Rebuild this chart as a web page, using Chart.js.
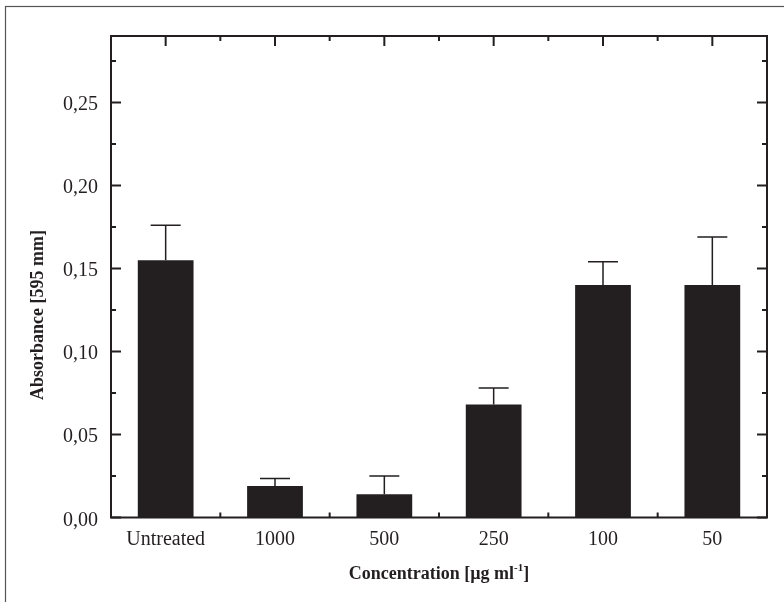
<!DOCTYPE html>
<html>
<head>
<meta charset="utf-8">
<script src="https://cdn.jsdelivr.net/npm/chart.js@4.4.1/dist/chart.umd.min.js"></script>
<style>
html,body{margin:0;padding:0;background:#fff;}
#wrap{width:784px;height:602px;position:relative;}
</style>
</head>
<body>
<div id="wrap"><canvas id="c" width="784" height="602"></canvas></div>
<script>
const categories = ['Untreated', '1000', '500', '250', '100', '50'];
const absorbance = [0.155, 0.019, 0.014, 0.068, 0.140, 0.140];
const errorUpper = [0.021, 0.0045, 0.011, 0.010, 0.014, 0.029];
const yMajorTicks = [0, 0.05, 0.10, 0.15, 0.20, 0.25];
const yMinorTicks = [0.025, 0.075, 0.125, 0.175, 0.225, 0.275];
const yTickLabels = ['0,00', '0,05', '0,10', '0,15', '0,20', '0,25'];
const xTitleMain = 'Concentration [µg ml';
const xTitleSup = '-1';
const xTitleEnd = ']';
const yTitle = 'Absorbance [595 mm]';

const INK = '#231f20';
const FONT = '"Liberation Serif", "DejaVu Serif", serif';

const decor = {
  id: 'decor',
  afterDatasetsDraw(chart) {
    const ctx = chart.ctx;
    const xs = chart.scales.x, ys = chart.scales.y;
    const a = chart.chartArea;
    ctx.save();
    // error bars
    ctx.strokeStyle = INK;
    ctx.lineWidth = 1.5;
    absorbance.forEach((v, i) => {
      const x = xs.getPixelForValue(i);
      const y0 = ys.getPixelForValue(v);
      const y1 = ys.getPixelForValue(v + errorUpper[i]);
      ctx.beginPath();
      ctx.moveTo(x, y0); ctx.lineTo(x, y1);
      ctx.moveTo(x - 15, y1); ctx.lineTo(x + 15, y1);
      ctx.stroke();
    });
    // frame
    ctx.lineWidth = 2;
    ctx.strokeRect(a.left, a.top, a.right - a.left, a.bottom - a.top);
    // y ticks (inward, both sides)
    ctx.beginPath();
    yMajorTicks.forEach(t => {
      const y = ys.getPixelForValue(t);
      ctx.moveTo(a.left, y); ctx.lineTo(a.left + 10, y);
      ctx.moveTo(a.right, y); ctx.lineTo(a.right - 10, y);
    });
    yMinorTicks.forEach(t => {
      const y = ys.getPixelForValue(t);
      ctx.moveTo(a.left, y); ctx.lineTo(a.left + 5, y);
      ctx.moveTo(a.right, y); ctx.lineTo(a.right - 5, y);
    });
    // x ticks: long at centers, short at boundaries (top and bottom)
    categories.forEach((c, i) => {
      const x = xs.getPixelForValue(i);
      ctx.moveTo(x, a.top); ctx.lineTo(x, a.top + 10);
      ctx.moveTo(x, a.bottom); ctx.lineTo(x, a.bottom - 10);
      if (i > 0) {
        const xb = (xs.getPixelForValue(i - 1) + x) / 2;
        ctx.moveTo(xb, a.top); ctx.lineTo(xb, a.top + 5);
        ctx.moveTo(xb, a.bottom); ctx.lineTo(xb, a.bottom - 5);
      }
    });
    ctx.stroke();
    // y tick labels
    ctx.fillStyle = INK;
    ctx.font = '20px ' + FONT;
    ctx.textAlign = 'right';
    ctx.textBaseline = 'alphabetic';
    yMajorTicks.forEach((t, i) => {
      const y = ys.getPixelForValue(t);
      ctx.fillText(yTickLabels[i], a.left - 13, y + 8);
    });
    // x tick labels
    ctx.textAlign = 'center';
    categories.forEach((c, i) => {
      ctx.fillText(c, xs.getPixelForValue(i), 545);
    });
    // x title with superscript
    const cx = (a.left + a.right) / 2;
    ctx.font = 'bold 18px ' + FONT;
    const w1 = ctx.measureText(xTitleMain).width;
    const w3 = ctx.measureText(xTitleEnd).width;
    ctx.font = 'bold 11px ' + FONT;
    const w2 = ctx.measureText(xTitleSup).width;
    let x0 = cx - (w1 + w2 + w3) / 2;
    ctx.textAlign = 'left';
    ctx.font = 'bold 18px ' + FONT;
    ctx.fillText(xTitleMain, x0, 579);
    ctx.font = 'bold 11px ' + FONT;
    ctx.fillText(xTitleSup, x0 + w1, 571);
    ctx.font = 'bold 18px ' + FONT;
    ctx.fillText(xTitleEnd, x0 + w1 + w2, 579);
    // y title
    ctx.translate(43, 315);
    ctx.rotate(-Math.PI / 2);
    ctx.textAlign = 'center';
    ctx.fillText(yTitle, 0, 0);
    ctx.restore();
  },
  afterDraw(chart) {
    const ctx = chart.ctx;
    ctx.save();
    ctx.strokeStyle = '#555';
    ctx.lineWidth = 1.2;
    ctx.strokeRect(5.5, 6.5, 790, 620);
    ctx.restore();
  }
};

new Chart(document.getElementById('c'), {
  type: 'bar',
  data: {
    labels: categories,
    datasets: [{
      data: absorbance,
      backgroundColor: INK,
      borderWidth: 0,
      categoryPercentage: 1.0,
      barPercentage: 0.51
    }]
  },
  options: {
    responsive: false,
    animation: false,
    layout: { padding: { left: 111, right: 17, top: 36, bottom: 84.5 } },
    plugins: { legend: { display: false }, tooltip: { enabled: false } },
    scales: {
      x: { display: false, offset: true },
      y: { display: false, min: 0, max: 0.29 }
    }
  },
  plugins: [decor]
});
</script>
</body>
</html>
